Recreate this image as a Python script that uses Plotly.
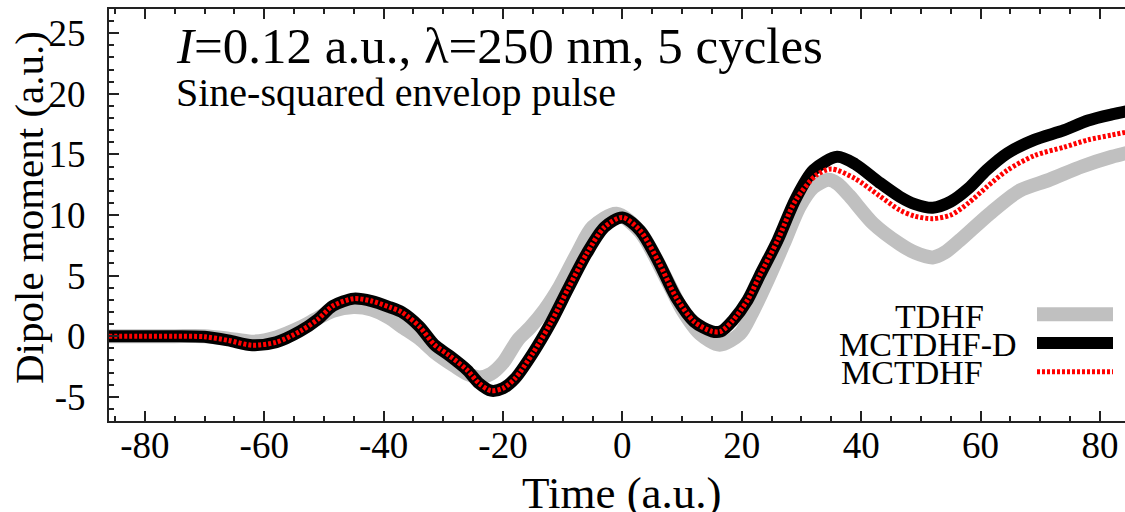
import plotly.graph_objects as go

# ---------------- data ----------------
t_tdhf = [-86, -80, -75, -70, -66, -62, -58, -54, -51, -48.5, -45, -42, -39, -37, -34, -31.5,
          -28, -26, -24, -22, -20, -17.5, -15.5, -13, -10.5, -7.5, -5, -1, 3, 7.5, 10, 13,
          16.3, 19.7, 21.5, 24.5, 27, 29.7, 32, 34.5, 36, 38, 42, 46.5, 49, 52, 54, 56.5,
          61.5, 66.5, 71.5, 77, 82, 86]
d_tdhf = [0.0, 0.0, 0.0, 0.0, -0.2, -0.45, -0.1, 0.7, 1.5, 2.1, 2.4, 2.2, 1.5, 0.8, -0.2, -1.3,
          -2.5, -3.1, -3.4, -3.1, -2.2, -0.3, 0.7, 2.2, 4.1, 6.9, 9.0, 10.1, 8.6, 4.6, 2.2, 0.2,
          -0.7, 0.2, 1.7, 4.8, 7.6, 10.7, 12.3, 12.9, 12.6, 11.6, 9.3, 7.6, 6.9, 6.5, 6.9, 7.9,
          10.1, 12.0, 12.9, 14.0, 14.8, 15.3]

t_mcd = [-86, -80, -75, -70, -66, -62, -58, -54, -51, -48.5, -45, -42, -39, -37, -34, -31.5,
         -29, -26, -24, -22, -20, -18, -15, -12, -9, -6, -3, 0, 3, 6, 9, 12, 15, 16.5, 18.5,
         21, 23, 26, 29, 32, 36, 39, 43, 46.5, 49, 52, 55, 58, 61, 64.5, 69, 74, 78, 82, 86]
d_mcd = [0.0, 0.0, 0.0, -0.05, -0.35, -0.75, -0.5, 0.4, 1.4, 2.5, 3.1, 2.9, 2.4, 2.0, 0.8, -0.7,
         -1.6, -2.8, -3.9, -4.5, -4.3, -3.5, -1.4, 1.1, 4.0, 6.8, 9.0, 9.8, 8.7, 6.2, 3.2, 1.2,
         0.4, 0.4, 1.3, 3.0, 5.0, 7.9, 11.3, 13.7, 14.8, 14.2, 12.7, 11.5, 10.9, 10.6, 11.1, 12.2,
         13.7, 15.1, 16.2, 17.0, 17.8, 18.3, 18.7]

t_mc = [-86, -80, -75, -70, -66, -62, -58, -54, -51, -48.5, -45, -42, -39, -37, -34, -31.5,
        -29, -26, -24, -22, -20, -18, -15, -12, -9, -6, -3, 0, 3, 6, 9, 12, 15, 16.5, 18.5,
        21, 23, 26, 29, 32.5, 35, 39, 43, 46.5, 49, 52, 55, 58, 61, 64.5, 69, 74, 78, 82, 86]
d_mc = [0.0, 0.0, 0.0, -0.05, -0.35, -0.75, -0.5, 0.4, 1.4, 2.5, 3.1, 2.9, 2.4, 2.0, 0.8, -0.7,
        -1.6, -2.8, -3.9, -4.5, -4.3, -3.5, -1.4, 1.1, 4.0, 6.8, 9.0, 9.8, 8.7, 6.2, 3.2, 1.2,
        0.4, 0.4, 1.3, 3.0, 5.0, 7.9, 11.2, 13.3, 13.8, 13.0, 11.6, 10.4, 9.9, 9.7, 10.0, 11.0,
        12.3, 13.7, 14.9, 15.6, 16.2, 16.6, 17.0]

series_names = ["TDHF", "MCTDHF-D", "MCTDHF"]
x_ticks = [-80, -60, -40, -20, 0, 20, 40, 60, 80]
y_ticks = [-5, 0, 5, 10, 15, 20, 25]
x_range = [-86, 84.2]
y_range = [-7, 27]

FONT = "Liberation Serif"
W, H = 1125, 512
ML, MR, MT, MB = 109, 0, 9, 91
PW, PH = W - ML - MR, H - MT - MB


def px(x):
    return (x - ML) / PW


def py(y):
    return (H - MB - y) / PH


fig = go.Figure()
fig.add_trace(go.Scatter(x=t_tdhf, y=d_tdhf, mode="lines", name=series_names[0],
                         line=dict(color="#c0c0c0", width=14, shape="spline", smoothing=0.8)))
fig.add_trace(go.Scatter(x=t_mcd, y=d_mcd, mode="lines", name=series_names[1],
                         line=dict(color="#000000", width=12, shape="spline", smoothing=0.8)))
fig.add_trace(go.Scatter(x=t_mc, y=d_mc, mode="lines", name=series_names[2],
                         line=dict(color="#ff0000", width=5, dash="3px,2px", shape="spline", smoothing=0.8)))

axis_common = dict(showline=True, linecolor="#222", linewidth=2, ticks="inside",
                   tickcolor="#222", tickwidth=1.5, ticklen=10, showgrid=False, zeroline=False,
                   automargin=False, tickmode="array",
                   tickfont=dict(family=FONT, size=37, color="black"))

fig.update_xaxes(range=x_range, tickvals=x_ticks, ticktext=[str(v) for v in x_ticks],
                 mirror="ticks",
                 minor=dict(dtick=5, tick0=0, ticks="inside", ticklen=5, tickcolor="#222", tickwidth=1.5),
                 ticklabelstandoff=-9, **axis_common)
fig.update_yaxes(range=y_range, tickvals=y_ticks, ticktext=[str(v) for v in y_ticks],
                 mirror=False,
                 minor=dict(dtick=1, tick0=0, ticks="inside", ticklen=5, tickcolor="#222", tickwidth=1.5),
                 ticklabelstandoff=14, **axis_common)

annotations = [
    dict(text="<i>I</i>=0.12 a.u., λ=250 nm, 5 cycles", x=px(174), y=py(46),
         xanchor="left", yanchor="middle", font=dict(family=FONT, size=51, color="black")),
    dict(text="Sine-squared envelop pulse", x=px(174), y=py(92),
         xanchor="left", yanchor="middle", font=dict(family=FONT, size=40, color="black")),
    dict(text="Time (a.u.)", x=px(622), y=py(493),
         xanchor="center", yanchor="middle", font=dict(family=FONT, size=45, color="black")),
    dict(text="Dipole moment (a.u.)", x=px(29), y=py(208), textangle=-90,
         xanchor="center", yanchor="middle", font=dict(family=FONT, size=41, color="black")),
    dict(text=series_names[0], x=px(986), y=py(316), xanchor="right", yanchor="middle",
         font=dict(family=FONT, size=34, color="black")),
    dict(text=series_names[1], x=px(1019), y=py(344), xanchor="right", yanchor="middle",
         font=dict(family=FONT, size=34, color="black")),
    dict(text=series_names[2], x=px(985), y=py(372), xanchor="right", yanchor="middle",
         font=dict(family=FONT, size=34, color="black")),
]
for a in annotations:
    a.update(xref="paper", yref="paper", showarrow=False)

shapes = [
    dict(type="line", x0=px(1037), x1=px(1113), y0=py(314.3), y1=py(314.3),
         line=dict(color="#c0c0c0", width=14)),
    dict(type="line", x0=px(1037), x1=px(1113), y0=py(343), y1=py(343),
         line=dict(color="#000000", width=12)),
    dict(type="line", x0=px(1037), x1=px(1113), y0=py(371.7), y1=py(371.7),
         line=dict(color="#ff0000", width=5, dash="3px,2px")),
]
for s in shapes:
    s.update(xref="paper", yref="paper")

fig.update_layout(width=W, height=H, margin=dict(l=ML, r=MR, t=MT, b=MB, autoexpand=False),
                  plot_bgcolor="white", paper_bgcolor="white", showlegend=False,
                  annotations=annotations, shapes=shapes)

fig.write_html("out.html", config={"displayModeBar": False},
               post_script="document.body.style.margin='0';document.body.style.overflow='hidden';")
